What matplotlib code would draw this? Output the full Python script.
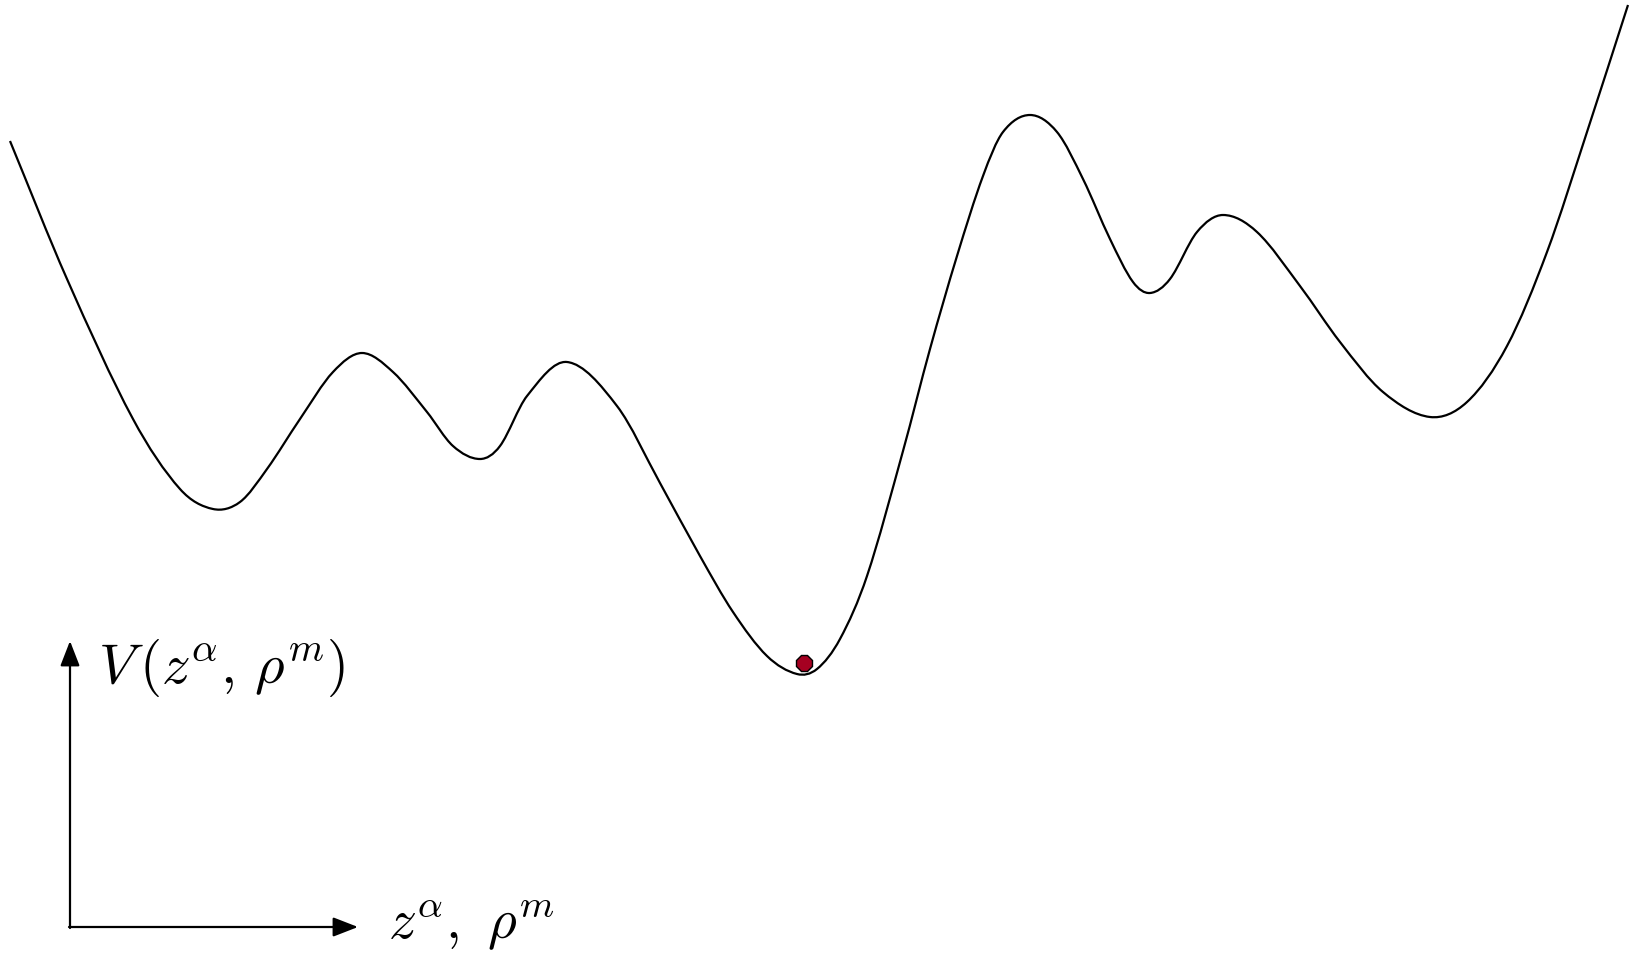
import matplotlib.pyplot as plt
from matplotlib.path import Path
from matplotlib.patches import PathPatch

# curve, in pixel coordinates (y grows downward)
curve_x = [10, 67, 133, 180, 213, 240, 267, 300, 333, 362, 393, 427, 453, 480, 500, 527,
           567, 617, 660, 700, 733, 767, 797, 817, 840, 867, 903, 930, 957, 983, 1003,
           1030, 1057, 1083, 1110, 1133, 1150, 1170, 1197, 1223, 1257, 1300, 1340, 1383,
           1430, 1467, 1507, 1547, 1587, 1628]
curve_y = [142, 280, 420, 490, 510, 503, 470, 420, 373, 354, 373, 413, 447, 460, 447, 397,
           363, 407, 484, 557, 613, 657, 675, 670, 640, 577, 452, 350, 257, 177, 133,
           116, 133, 180, 240, 283, 294, 280, 233, 216, 233, 287, 343, 393,
           418, 403, 347, 253, 133, 6]

ball_x = [804]
ball_y = [664]

fig = plt.figure(figsize=(16.35, 9.54), dpi=100)
ax = fig.add_axes([0, 0, 1, 1])
ax.set_xlim(0, 1635)
ax.set_ylim(954, 0)
ax.set_axis_off()

# smooth path through the read points: cubic Hermite in x, drawn as Bezier segments
n = len(curve_x)
slopes = []
for i in range(n):
    a, b = max(i - 1, 0), min(i + 1, n - 1)
    slopes.append((curve_y[b] - curve_y[a]) / (curve_x[b] - curve_x[a]))
verts = [(curve_x[0], curve_y[0])]
codes = [Path.MOVETO]
for i in range(n - 1):
    dx = (curve_x[i + 1] - curve_x[i]) / 3
    verts += [(curve_x[i] + dx, curve_y[i] + slopes[i] * dx),
              (curve_x[i + 1] - dx, curve_y[i + 1] - slopes[i + 1] * dx),
              (curve_x[i + 1], curve_y[i + 1])]
    codes += [Path.CURVE4] * 3
ax.add_patch(PathPatch(Path(verts, codes), facecolor='none', edgecolor='black', lw=1.6))

ax.plot(ball_x, ball_y, marker='8', markersize=13, color='#a50021',
        markeredgecolor='black', markeredgewidth=1.0, linestyle='none', zorder=3)

# axis arrows
arrow = dict(arrowstyle='-|>,head_length=0.9,head_width=0.35', color='black', lw=1.6,
             shrinkA=0, shrinkB=0, mutation_scale=17)
ax.annotate('', xy=(70, 642), xytext=(70, 929), arrowprops=arrow)
ax.annotate('', xy=(358, 928), xytext=(69, 928), arrowprops=arrow)

plt.rcParams['mathtext.fontset'] = 'cm'
ax.text(98, 668, r'$V\,(z^{\alpha},\,\rho^{m})$', fontsize=41, va='center', ha='left')
ax.text(388, 939, r'$z^{\alpha},\ \rho^{m}$', fontsize=40, va='baseline', ha='left')

fig.savefig('out.png', dpi=100)
